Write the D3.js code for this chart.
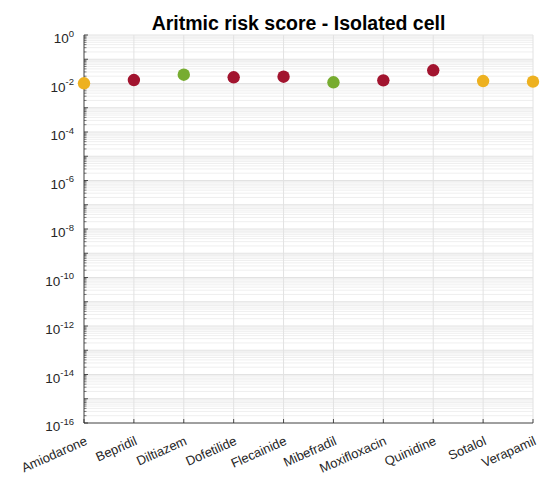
<!DOCTYPE html>
<html><head><meta charset="utf-8">
<script src="https://cdn.jsdelivr.net/npm/d3@7"></script>
<style>body{margin:0;background:#fff}svg{display:block}</style>
</head><body>
<svg id="c" width="544" height="477"></svg>
<script>
const categories = ["Amiodarone","Bepridil","Diltiazem","Dofetilide","Flecainide","Mibefradil","Moxifloxacin","Quinidine","Sotalol","Verapamil"];
const scores = [0.0102,0.0139,0.023,0.018,0.019,0.0112,0.0135,0.035,0.0126,0.0119];
const riskClass = ["int","high","low","high","high","low","high","high","int","int"];
const yTickExponents = [0,-2,-4,-6,-8,-10,-12,-14,-16];
const title = "Aritmic risk score - Isolated cell";
const colors = {high:"#A2142F", int:"#EDB120", low:"#77AC30"};

const svg = d3.select("#c");
const L=84, R=533, T=35, B=423;
const x = d3.scalePoint().domain(categories).range([L,R]);
const y = d3.scaleLog().domain([1e-16,1]).range([B,T]);
const FONT = "Liberation Sans, Arial, Helvetica, sans-serif";

// grid
const g = svg.append("g");
const minor = [];
for (let e=-16;e<0;e++) for (let k=2;k<=9;k++) minor.push(k*Math.pow(10,e));
g.selectAll(".mn").data(minor).enter().append("line")
 .attr("x1",L).attr("x2",R).attr("y1",d=>y(d)).attr("y2",d=>y(d))
 .attr("stroke","#efefef").attr("stroke-width",1);
const majors = d3.range(-16,1).map(e=>Math.pow(10,e));
g.selectAll(".mj").data(majors).enter().append("line")
 .attr("x1",L).attr("x2",R).attr("y1",d=>y(d)).attr("y2",d=>y(d))
 .attr("stroke","#e2e2e2").attr("stroke-width",1);
g.selectAll(".vg").data(categories).enter().append("line")
 .attr("x1",d=>x(d)).attr("x2",d=>x(d)).attr("y1",T).attr("y2",B)
 .attr("stroke","#e2e2e2").attr("stroke-width",1);

// axes
const ax = svg.append("g").attr("stroke","#262626").attr("fill","none");
ax.append("line").attr("x1",L).attr("x2",L).attr("y1",T).attr("y2",B).attr("stroke-width",0.8);
ax.append("line").attr("x1",L).attr("x2",R).attr("y1",B).attr("y2",B).attr("stroke-width",0.8);
ax.selectAll(".yt").data(majors).enter().append("line")
 .attr("x1",L).attr("x2",L+4).attr("y1",d=>y(d)).attr("y2",d=>y(d)).attr("stroke-width",0.8);
ax.selectAll(".ymt").data(minor).enter().append("line")
 .attr("x1",L).attr("x2",L+2.5).attr("y1",d=>y(d)).attr("y2",d=>y(d)).attr("stroke-width",0.6);
ax.selectAll(".xt").data(categories).enter().append("line")
 .attr("x1",d=>x(d)).attr("x2",d=>x(d)).attr("y1",B).attr("y2",B-4).attr("stroke-width",0.8);

// y labels
const yl = svg.append("g").attr("font-family",FONT).attr("fill","#262626");
yTickExponents.forEach(e=>{
  const t = yl.append("text").attr("x",L-10).attr("y",y(Math.pow(10,e))+8).attr("text-anchor","end").attr("font-size",13.5);
  t.append("tspan").text("10");
  t.append("tspan").attr("dy",-6.5).attr("font-size",9.5).text(e);
});

// x labels
svg.append("g").selectAll("text").data(categories).enter().append("text")
 .attr("transform",d=>`translate(${x(d)+4},${B+21}) rotate(-24)`)
 .attr("text-anchor","end").attr("font-family",FONT)
 .attr("font-size",13).attr("fill","#262626").text(d=>d);

// points
svg.append("g").selectAll("circle").data(categories).enter().append("circle")
 .attr("cx",d=>x(d)).attr("cy",(d,i)=>y(scores[i])).attr("r",6.2)
 .attr("fill",(d,i)=>colors[riskClass[i]]);

// title
svg.append("text").attr("x",298.5).attr("y",30).attr("text-anchor","middle")
 .attr("font-family",FONT).attr("font-weight","bold")
 .attr("font-size",19.5).attr("fill","#000").text(title);
</script>
</body></html>
